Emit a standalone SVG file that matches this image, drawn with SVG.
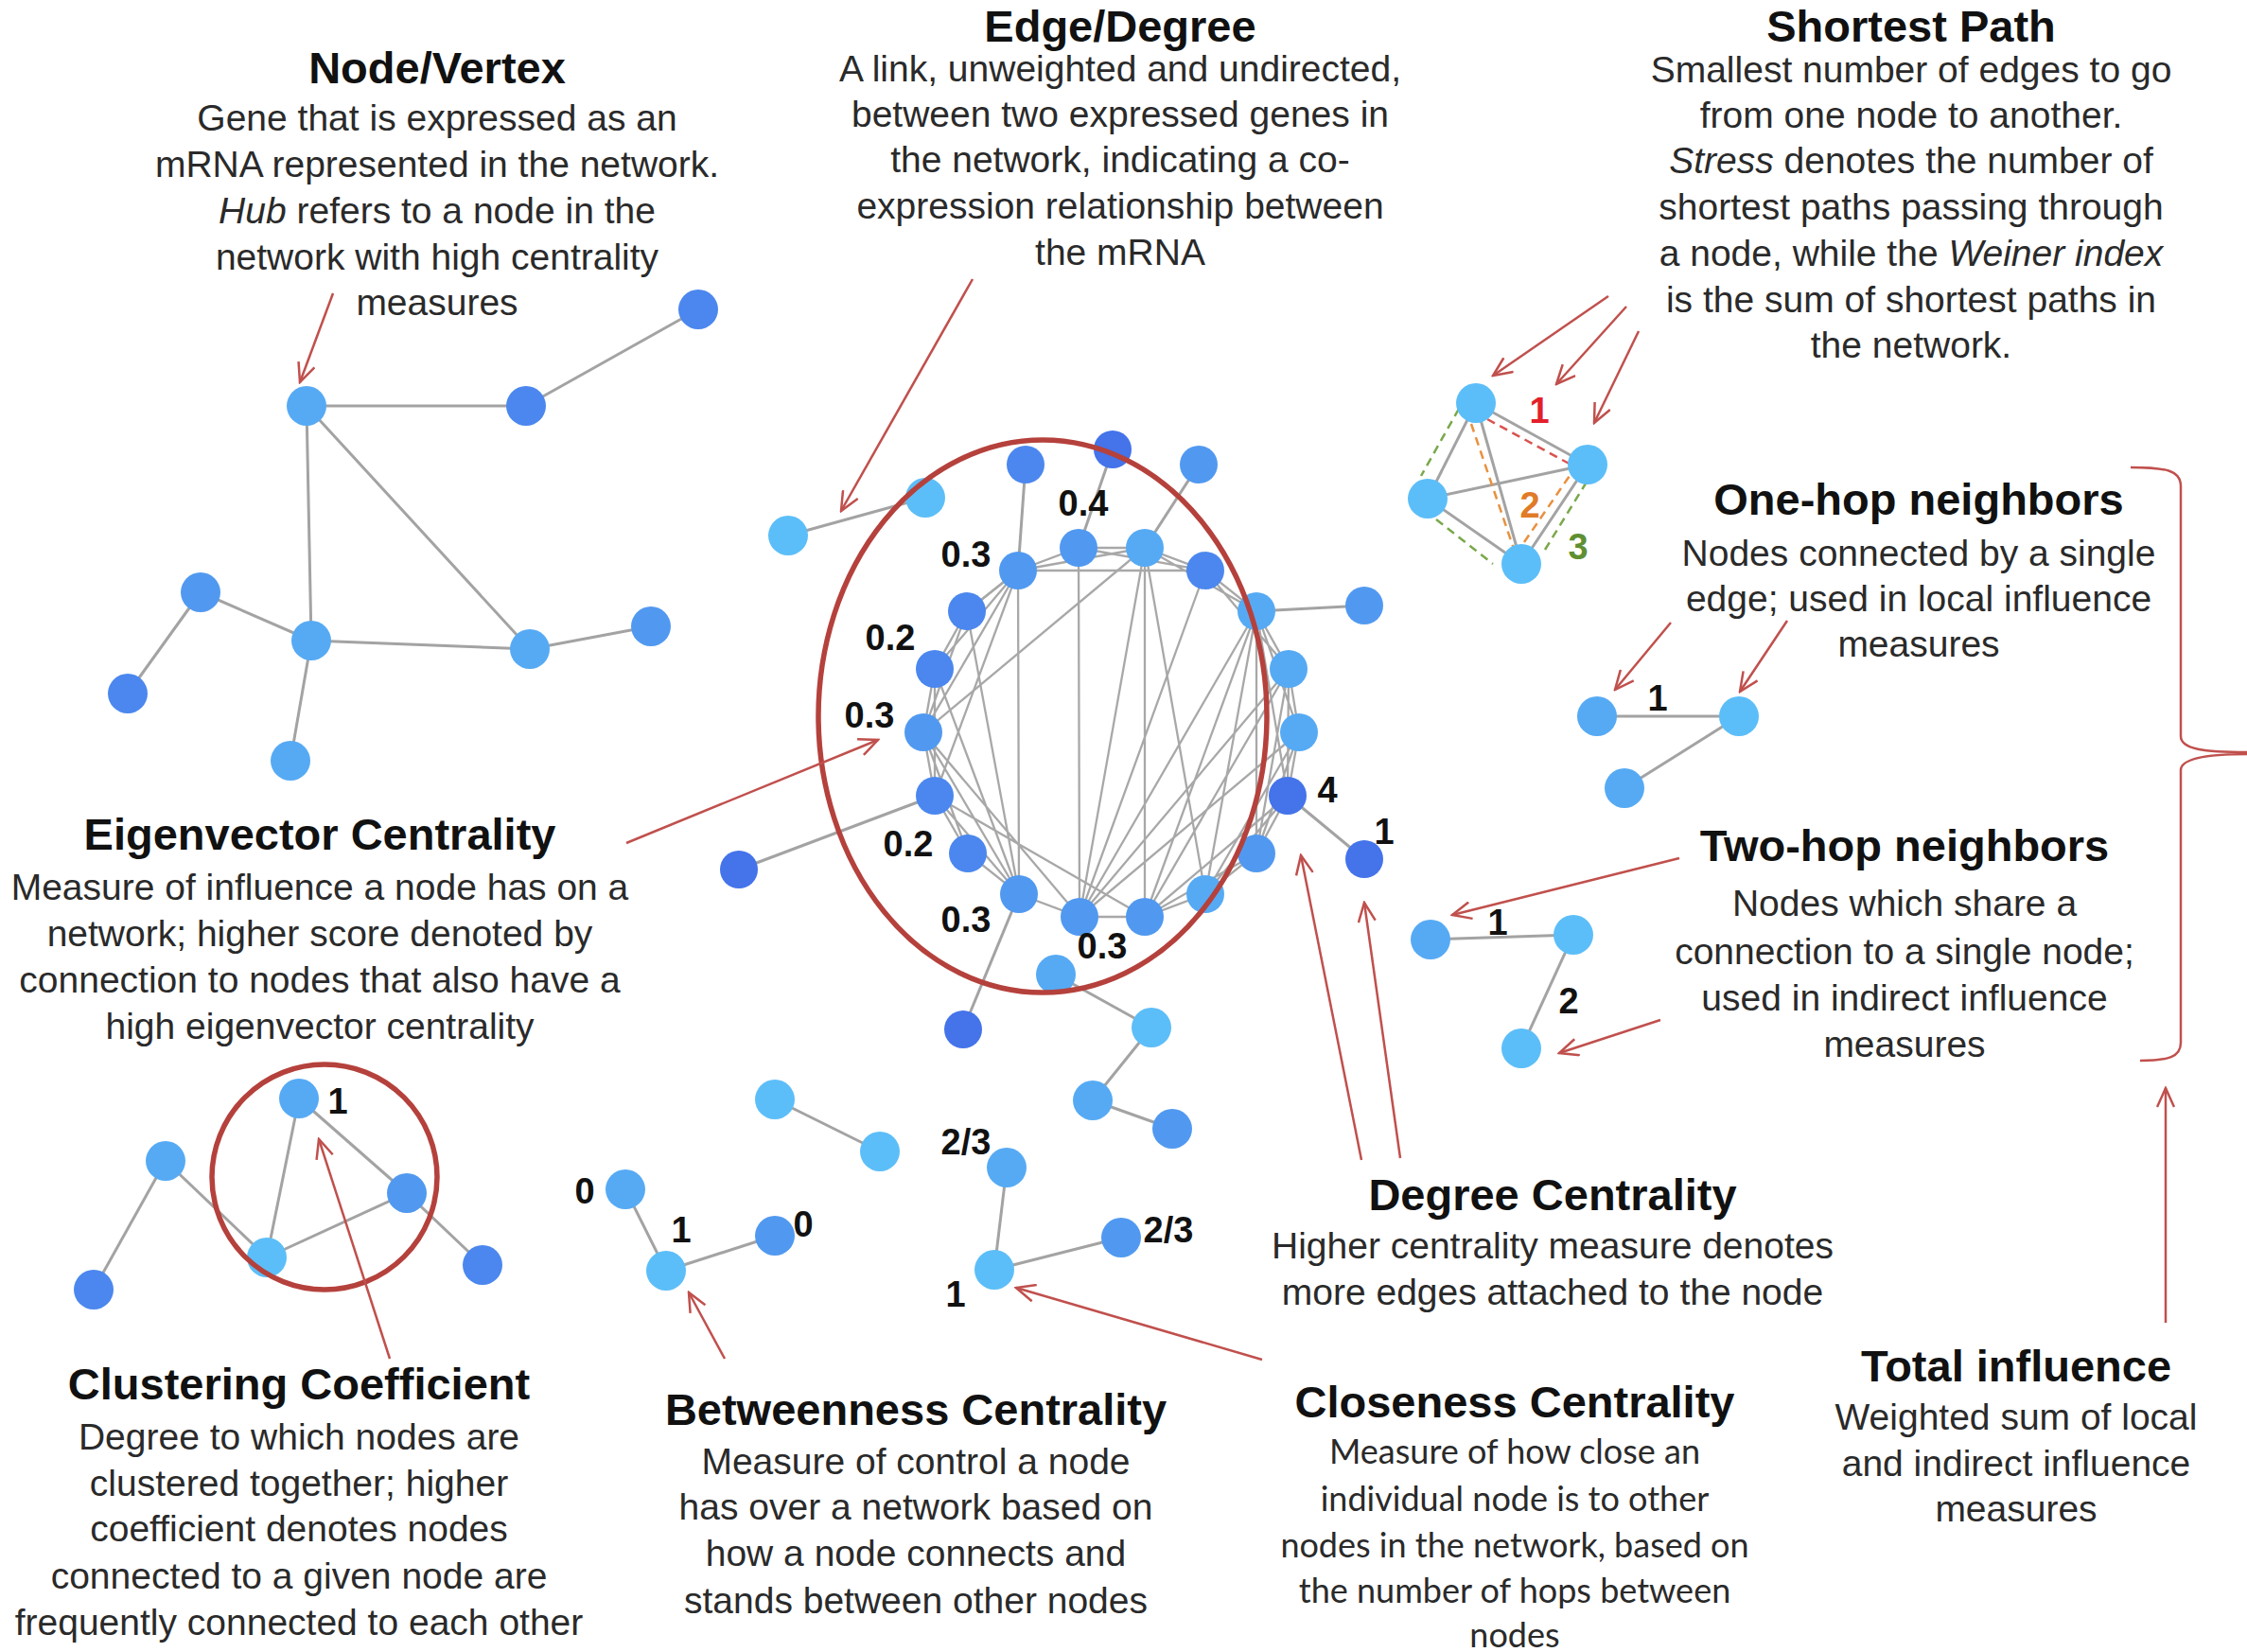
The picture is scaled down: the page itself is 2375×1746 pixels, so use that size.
<svg xmlns="http://www.w3.org/2000/svg" width="2375" height="1746" viewBox="0 0 2375 1746">
<style>
.t{font-family:"Liberation Sans",Arial,sans-serif;font-weight:bold;font-size:47px;fill:#111;text-anchor:middle}
.b{font-family:"Liberation Sans",Arial,sans-serif;font-size:39px;fill:#2a2a2a;text-anchor:middle}
.c{font-family:Lato,"Open Sans",sans-serif;font-size:36px;fill:#2a2a2a;text-anchor:middle}
.lb{font-family:"Liberation Sans",Arial,sans-serif;font-weight:bold;font-size:38px;fill:#111;text-anchor:middle}
.i{font-style:italic}
.e{stroke:#a3a3a3;stroke-width:3;fill:none}
.a{stroke:#c0504d;stroke-width:2.5;fill:none;marker-end:url(#ah)}
.ring{stroke:#b5413c;stroke-width:5.5;fill:none}
.d{stroke-width:2.5;stroke-dasharray:9 6;fill:none}
.L1{fill:#5cbef8}.L2{fill:#56aaf4}.L3{fill:#5199f0}.L4{fill:#4b87ee}.L5{fill:#4473ea}
</style>
<defs>
<marker id="ah" viewBox="0 0 24 20" refX="22" refY="10" markerWidth="24" markerHeight="20" markerUnits="userSpaceOnUse" orient="auto"><path d="M2,1 L22,10 L2,19" fill="none" stroke="#c0504d" stroke-width="2.5"/></marker>
</defs>

<!-- edges -->
<g id="edges" class="e">
<line x1="324" y1="429" x2="556" y2="429"/><line x1="556" y1="429" x2="738" y2="327"/>
<line x1="324" y1="429" x2="329" y2="677"/><line x1="324" y1="429" x2="560" y2="686"/>
<line x1="212" y1="626" x2="329" y2="677"/><line x1="212" y1="626" x2="135" y2="733"/>
<line x1="329" y1="677" x2="560" y2="686"/><line x1="560" y1="686" x2="688" y2="662"/>
<line x1="329" y1="677" x2="307" y2="804"/>
<line x1="833" y1="566" x2="978" y2="526"/>
<line x1="1076" y1="603" x2="1084" y2="491"/><line x1="1140" y1="579" x2="1176" y2="475"/>
<line x1="1210" y1="579" x2="1267" y2="491"/><line x1="1328" y1="646" x2="1442" y2="640"/>
<line x1="1361" y1="841" x2="1442" y2="908"/><line x1="988" y1="841" x2="781" y2="919"/>
<line x1="1077" y1="945" x2="1018" y2="1088"/>
<line x1="1116" y1="1030" x2="1217" y2="1086"/><line x1="1217" y1="1086" x2="1155" y2="1163"/>
<line x1="1155" y1="1163" x2="1239" y2="1193"/><line x1="819" y1="1162" x2="930" y2="1217"/>
</g>
<g id="ring-edges" stroke="#a8a8a8" stroke-width="2.3" fill="none">
<path d="M1076 603L1140 579L1210 579L1274 603L1328 646L1362 707L1373 774L1361 841L1328 902L1274 945L1210 969L1141 969L1077 945L1023 902L988 841L976 774L988 707L1022 646Z"/>
<path d="M1076 603L1210 579M1076 603L1274 603M1140 579L1274 603M1210 579L1328 646M1274 603L1362 707M1328 646L1373 774M1328 646L1361 841M1362 707L1361 841M1362 707L1328 902M1373 774L1328 902M1373 774L1274 945M1361 841L1274 945M1328 902L1210 969"/>
<path d="M1076 603L1022 646M1076 603L988 707M1076 603L976 774M1076 603L988 841M1076 603L1077 945M1077 945L1022 646M1077 945L988 707M1077 945L976 774M1077 945L988 841M1141 969L976 774M1022 646L976 774M988 707L988 841M976 774L1023 902M988 841L1077 945M1210 969L988 841"/>
<path d="M1140 579L1141 969M1210 579L1210 969M1210 579L1274 945M1210 579L976 774M1210 579L1141 969M1274 603L1141 969M1328 646L1141 969M1328 646L1210 969M1328 646L1274 945M1362 707L1141 969M1362 707L1210 969M1373 774L1141 969M1361 841L1210 969M1328 646L1328 902"/>
</g>
<g id="sp-edges" class="e">
<line x1="1560" y1="426" x2="1678" y2="491"/><line x1="1560" y1="426" x2="1509" y2="527"/>
<line x1="1560" y1="426" x2="1608" y2="596"/><line x1="1509" y1="527" x2="1678" y2="491"/>
<line x1="1509" y1="527" x2="1608" y2="596"/><line x1="1608" y1="596" x2="1678" y2="491"/>
</g>
<g id="sp-dashes">
<line class="d" stroke="#d9534f" x1="1572" y1="443" x2="1664" y2="493"/>
<line class="d" stroke="#e8913f" x1="1555" y1="448" x2="1600" y2="580"/>
<line class="d" stroke="#e8913f" x1="1611" y1="573" x2="1663" y2="497"/>
<line class="d" stroke="#7aa84a" x1="1542" y1="432" x2="1502" y2="503"/>
<line class="d" stroke="#7aa84a" x1="1518" y1="549" x2="1578" y2="596"/>
<line class="d" stroke="#7aa84a" x1="1633" y1="581" x2="1676" y2="511"/>
</g>
<g id="small-edges" class="e">
<line x1="1688" y1="757" x2="1838" y2="757"/><line x1="1838" y1="757" x2="1717" y2="833"/>
<line x1="1512" y1="993" x2="1663" y2="988"/><line x1="1663" y1="988" x2="1608" y2="1108"/>
<line x1="316" y1="1161" x2="282" y2="1329"/><line x1="316" y1="1161" x2="430" y2="1261"/>
<line x1="282" y1="1329" x2="430" y2="1261"/><line x1="175" y1="1227" x2="282" y2="1329"/>
<line x1="175" y1="1227" x2="99" y2="1363"/><line x1="430" y1="1261" x2="510" y2="1337"/>
<line x1="661" y1="1257" x2="704" y2="1343"/><line x1="704" y1="1343" x2="819" y2="1306"/>
<line x1="1064" y1="1234" x2="1051" y2="1342"/><line x1="1051" y1="1342" x2="1185" y2="1308"/>
</g>

<!-- nodes -->
<g id="nodes">
<g id="nv-hub"><circle class="L2" cx="324" cy="429" r="21"/></g>
<g id="nv-2"><circle class="L4" cx="556" cy="429" r="21"/></g>
<g id="nv-3"><circle class="L4" cx="738" cy="327" r="21"/></g>
<g id="nv-4"><circle class="L3" cx="212" cy="626" r="21"/></g>
<g id="nv-5"><circle class="L4" cx="135" cy="733" r="21"/></g>
<g id="nv-6"><circle class="L2" cx="329" cy="677" r="21"/></g>
<g id="nv-7"><circle class="L2" cx="307" cy="804" r="21"/></g>
<g id="nv-8"><circle class="L2" cx="560" cy="686" r="21"/></g>
<g id="nv-9"><circle class="L3" cx="688" cy="662" r="21"/></g>

<g id="ed-1"><circle class="L1" cx="833" cy="566" r="21"/></g>
<g id="ed-2"><circle class="L1" cx="978" cy="526" r="21"/></g>

<g id="rg-a"><circle class="L3" cx="1076" cy="603" r="20"/></g>
<g id="rg-b"><circle class="L3" cx="1140" cy="579" r="20"/></g>
<g id="rg-c"><circle class="L2" cx="1210" cy="579" r="20"/></g>
<g id="rg-d"><circle class="L4" cx="1274" cy="603" r="20"/></g>
<g id="rg-e"><circle class="L2" cx="1328" cy="646" r="20"/></g>
<g id="rg-f"><circle class="L2" cx="1362" cy="707" r="20"/></g>
<g id="rg-g"><circle class="L2" cx="1373" cy="774" r="20"/></g>
<g id="rg-h"><circle class="L5" cx="1361" cy="841" r="20"/></g>
<g id="rg-i"><circle class="L3" cx="1328" cy="902" r="20"/></g>
<g id="rg-j"><circle class="L2" cx="1274" cy="945" r="20"/></g>
<g id="rg-k"><circle class="L3" cx="1210" cy="969" r="20"/></g>
<g id="rg-l"><circle class="L3" cx="1141" cy="969" r="20"/></g>
<g id="rg-m"><circle class="L3" cx="1077" cy="945" r="20"/></g>
<g id="rg-n"><circle class="L4" cx="1023" cy="902" r="20"/></g>
<g id="rg-o"><circle class="L4" cx="988" cy="841" r="20"/></g>
<g id="rg-p"><circle class="L3" cx="976" cy="774" r="20"/></g>
<g id="rg-q"><circle class="L4" cx="988" cy="707" r="20"/></g>
<g id="rg-r"><circle class="L4" cx="1022" cy="646" r="20"/></g>
<g id="ro-1"><circle class="L4" cx="1084" cy="491" r="20"/></g>
<g id="ro-2"><circle class="L5" cx="1176" cy="475" r="20"/></g>
<g id="ro-3"><circle class="L3" cx="1267" cy="491" r="20"/></g>
<g id="ro-4"><circle class="L3" cx="1442" cy="640" r="20"/></g>
<g id="ro-5"><circle class="L5" cx="1442" cy="908" r="20"/></g>
<g id="ro-6"><circle class="L5" cx="781" cy="919" r="20"/></g>
<g id="ro-7"><circle class="L5" cx="1018" cy="1088" r="20"/></g>
<g id="ro-8"><circle class="L2" cx="1116" cy="1030" r="21"/></g>
<g id="ro-9"><circle class="L1" cx="1217" cy="1086" r="21"/></g>
<g id="ro-10"><circle class="L2" cx="1155" cy="1163" r="21"/></g>
<g id="ro-11"><circle class="L3" cx="1239" cy="1193" r="21"/></g>
<g id="pr-1"><circle class="L1" cx="819" cy="1162" r="21"/></g>
<g id="pr-2"><circle class="L1" cx="930" cy="1217" r="21"/></g>

<g id="sp-t"><circle class="L1" cx="1560" cy="426" r="21"/></g>
<g id="sp-r"><circle class="L1" cx="1678" cy="491" r="21"/></g>
<g id="sp-l"><circle class="L1" cx="1509" cy="527" r="21"/></g>
<g id="sp-b"><circle class="L1" cx="1608" cy="596" r="21"/></g>

<g id="oh-1"><circle class="L2" cx="1688" cy="757" r="21"/></g>
<g id="oh-2"><circle class="L1" cx="1838" cy="757" r="21"/></g>
<g id="oh-3"><circle class="L2" cx="1717" cy="833" r="21"/></g>
<g id="th-1"><circle class="L2" cx="1512" cy="993" r="21"/></g>
<g id="th-2"><circle class="L1" cx="1663" cy="988" r="21"/></g>
<g id="th-3"><circle class="L1" cx="1608" cy="1108" r="21"/></g>

<g id="cc-1"><circle class="L2" cx="316" cy="1161" r="21"/></g>
<g id="cc-2"><circle class="L3" cx="430" cy="1261" r="21"/></g>
<g id="cc-3"><circle class="L2" cx="175" cy="1227" r="21"/></g>
<g id="cc-4"><circle class="L4" cx="99" cy="1363" r="21"/></g>
<g id="cc-5"><circle class="L1" cx="282" cy="1329" r="21"/></g>
<g id="cc-6"><circle class="L4" cx="510" cy="1337" r="21"/></g>

<g id="bc-1"><circle class="L2" cx="661" cy="1257" r="21"/></g>
<g id="bc-2"><circle class="L1" cx="704" cy="1343" r="21"/></g>
<g id="bc-3"><circle class="L3" cx="819" cy="1306" r="21"/></g>
<g id="cl-1"><circle class="L2" cx="1064" cy="1234" r="21"/></g>
<g id="cl-2"><circle class="L1" cx="1051" cy="1342" r="21"/></g>
<g id="cl-3"><circle class="L3" cx="1185" cy="1308" r="21"/></g>
</g>

<!-- highlight rings and brace -->
<g id="highlights">
<ellipse class="ring" cx="1102" cy="757" rx="237" ry="292"/>
<circle class="ring" cx="343" cy="1244" r="119"/>
<path d="M2252 494 C2292 494 2305 498 2305 514 L2305 778 C2305 792 2330 795 2375 795 M2375 797 C2330 797 2305 802 2305 814 L2305 1102 C2305 1117 2292 1121 2262 1121" stroke="#c0504d" stroke-width="2.5" fill="none"/>
</g>

<!-- connectors (annotation arrows) -->
<g id="connectors">
<line class="a" x1="352" y1="310" x2="317" y2="404"/>
<line class="a" x1="1028" y1="295" x2="889" y2="540"/>
<line class="a" x1="1700" y1="313" x2="1578" y2="397"/>
<line class="a" x1="1719" y1="324" x2="1645" y2="406"/>
<line class="a" x1="1732" y1="350" x2="1685" y2="447"/>
<line class="a" x1="1766" y1="658" x2="1707" y2="729"/>
<line class="a" x1="1889" y1="656" x2="1839" y2="731"/>
<line class="a" x1="1775" y1="907" x2="1535" y2="967"/>
<line class="a" x1="1755" y1="1078" x2="1648" y2="1113"/>
<line class="a" x1="662" y1="891" x2="928" y2="782"/>
<line class="a" x1="412" y1="1436" x2="337" y2="1204"/>
<line class="a" x1="766" y1="1436" x2="728" y2="1366"/>
<line class="a" x1="1334" y1="1437" x2="1074" y2="1361"/>
<line class="a" x1="1439" y1="1226" x2="1375" y2="904"/>
<line class="a" x1="1480" y1="1224" x2="1442" y2="954"/>
<line class="a" x1="2289" y1="1398" x2="2289" y2="1150"/>
</g>

<!-- value labels -->
<g id="labels">
<text class="lb" x="1145" y="545">0.4</text>
<text class="lb" x="1021" y="599">0.3</text>
<text class="lb" x="941" y="687">0.2</text>
<text class="lb" x="919" y="769">0.3</text>
<text class="lb" x="960" y="905">0.2</text>
<text class="lb" x="1021" y="985">0.3</text>
<text class="lb" x="1165" y="1013">0.3</text>
<text class="lb" x="1403" y="848">4</text>
<text class="lb" x="1463" y="892">1</text>
<text class="lb" x="1627" y="447" style="fill:#e3202a">1</text>
<text class="lb" x="1617" y="547" style="fill:#e07b28">2</text>
<text class="lb" x="1668" y="591" style="fill:#5f8f32">3</text>
<text class="lb" x="1752" y="751">1</text>
<text class="lb" x="1583" y="988">1</text>
<text class="lb" x="1658" y="1071">2</text>
<text class="lb" x="357" y="1177">1</text>
<text class="lb" x="618" y="1272">0</text>
<text class="lb" x="720" y="1313">1</text>
<text class="lb" x="849" y="1307">0</text>
<text class="lb" x="1021" y="1220">2/3</text>
<text class="lb" x="1010" y="1381">1</text>
<text class="lb" x="1235" y="1313">2/3</text>
</g>

<!-- text blocks -->
<g id="node-vertex">
<text class="t" x="462" y="88">Node/Vertex</text>
<text class="b" x="462" y="138">Gene that is expressed as an</text>
<text class="b" x="462" y="187">mRNA represented in the network.</text>
<text class="b" x="462" y="236"><tspan class="i">Hub</tspan> refers to a node in the</text>
<text class="b" x="462" y="285">network with high centrality</text>
<text class="b" x="462" y="333">measures</text>
</g>
<g id="edge-degree">
<text class="t" x="1184" y="44">Edge/Degree</text>
<text class="b" x="1184" y="86">A link, unweighted and undirected,</text>
<text class="b" x="1184" y="134">between two expressed genes in</text>
<text class="b" x="1184" y="182">the network, indicating a co-</text>
<text class="b" x="1184" y="231">expression relationship between</text>
<text class="b" x="1184" y="280">the mRNA</text>
</g>
<g id="shortest-path">
<text class="t" x="2020" y="44">Shortest Path</text>
<text class="b" x="2020" y="87">Smallest number of edges to go</text>
<text class="b" x="2020" y="135">from one node to another.</text>
<text class="b" x="2020" y="183"><tspan class="i">Stress</tspan> denotes the number of</text>
<text class="b" x="2020" y="232">shortest paths passing through</text>
<text class="b" x="2020" y="281">a node, while the <tspan class="i">Weiner index</tspan></text>
<text class="b" x="2020" y="330">is the sum of shortest paths in</text>
<text class="b" x="2020" y="378">the network.</text>
</g>
<g id="one-hop">
<text class="t" x="2028" y="544">One-hop neighbors</text>
<text class="b" x="2028" y="598">Nodes connected by a single</text>
<text class="b" x="2028" y="646">edge; used in local influence</text>
<text class="b" x="2028" y="694">measures</text>
</g>
<g id="two-hop">
<text class="t" x="2013" y="910">Two-hop neighbors</text>
<text class="b" x="2013" y="968">Nodes which share a</text>
<text class="b" x="2013" y="1019">connection to a single node;</text>
<text class="b" x="2013" y="1068">used in indirect influence</text>
<text class="b" x="2013" y="1117">measures</text>
</g>
<g id="eigenvector">
<text class="t" x="338" y="898">Eigenvector Centrality</text>
<text class="b" x="338" y="951">Measure of influence a node has on a</text>
<text class="b" x="338" y="1000">network; higher score denoted by</text>
<text class="b" x="338" y="1049">connection to nodes that also have a</text>
<text class="b" x="338" y="1098">high eigenvector centrality</text>
</g>
<g id="clustering">
<text class="t" x="316" y="1479">Clustering Coefficient</text>
<text class="b" x="316" y="1532">Degree to which nodes are</text>
<text class="b" x="316" y="1581">clustered together; higher</text>
<text class="b" x="316" y="1629">coefficient denotes nodes</text>
<text class="b" x="316" y="1679">connected to a given node are</text>
<text class="b" x="316" y="1728">frequently connected to each other</text>
</g>
<g id="betweenness">
<text class="t" x="968" y="1506">Betweenness Centrality</text>
<text class="b" x="968" y="1558">Measure of control a node</text>
<text class="b" x="968" y="1606">has over a network based on</text>
<text class="b" x="968" y="1655">how a node connects and</text>
<text class="b" x="968" y="1705">stands between other nodes</text>
</g>
<g id="degree">
<text class="t" x="1641" y="1279">Degree Centrality</text>
<text class="b" x="1641" y="1330">Higher centrality  measure denotes</text>
<text class="b" x="1641" y="1379">more edges attached to the node</text>
</g>
<g id="closeness">
<text class="t" x="1601" y="1498">Closeness Centrality</text>
<text class="c" x="1601" y="1547">Measure of how close an</text>
<text class="c" x="1601" y="1597">individual node is to other</text>
<text class="c" x="1601" y="1646">nodes in the network,  based on</text>
<text class="c" x="1601" y="1694">the number  of hops between</text>
<text class="c" x="1601" y="1741">nodes</text>
</g>
<g id="total-influence">
<text class="t" x="2131" y="1460">Total influence</text>
<text class="b" x="2131" y="1511">Weighted sum of local</text>
<text class="b" x="2131" y="1560">and indirect influence</text>
<text class="b" x="2131" y="1608">measures</text>
</g>
</svg>
